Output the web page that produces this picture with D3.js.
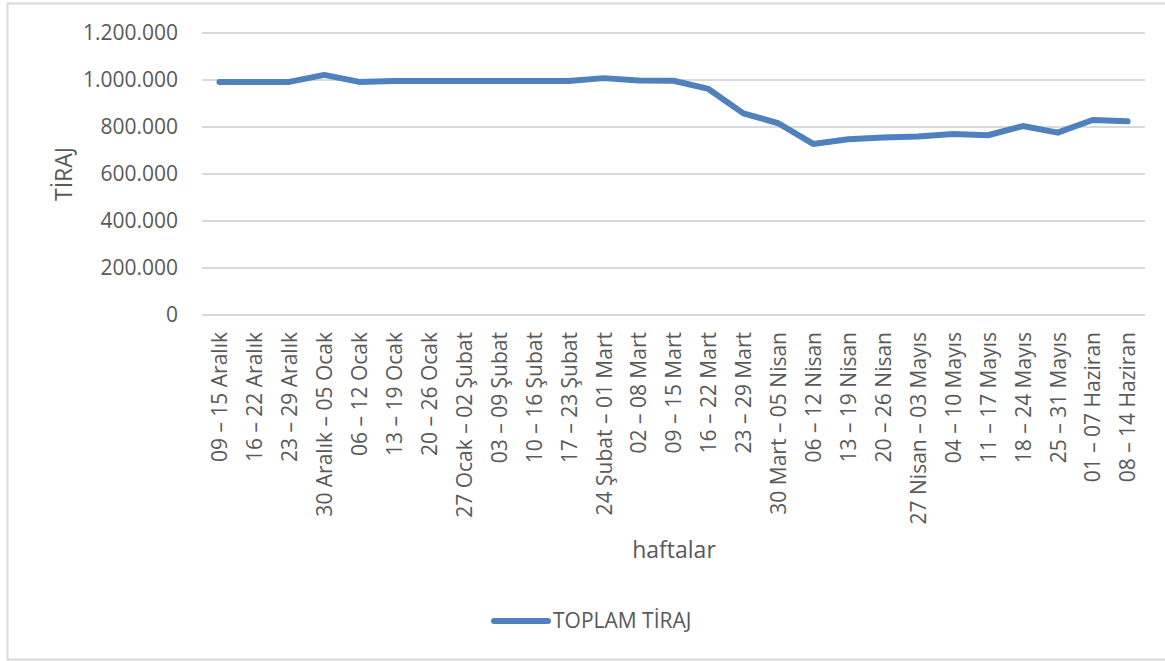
<!DOCTYPE html>
<html>
<head>
<meta charset="utf-8">
<script src="https://cdn.jsdelivr.net/npm/d3@7"></script>
<style>
  body { margin: 0; background: #fff; }
  svg text { font-family: 'Open Sans', sans-serif; fill: #595959; }
</style>
</head>
<body>
<div id="chart"></div>
<script>
const weeks = [
  '09 – 15 Aralık', '16 – 22 Aralık', '23 – 29 Aralık', '30 Aralık – 05 Ocak',
  '06 – 12 Ocak', '13 – 19 Ocak', '20 – 26 Ocak', '27 Ocak – 02 Şubat',
  '03 – 09 Şubat', '10 – 16 Şubat', '17 – 23 Şubat', '24 Şubat – 01 Mart',
  '02 – 08 Mart', '09 – 15 Mart', '16 – 22 Mart', '23 – 29 Mart',
  '30 Mart – 05 Nisan', '06 – 12 Nisan', '13 – 19 Nisan', '20 – 26 Nisan',
  '27 Nisan – 03 Mayıs', '04 – 10 Mayıs', '11 – 17 Mayıs', '18 – 24 Mayıs',
  '25 – 31 Mayıs', '01 – 07 Haziran', '08 – 14 Haziran'
]
const toplamTiraj = [
  992000, 992000, 992000, 1022000, 992000, 996000, 996000, 996000,
  996000, 996000, 996000, 1008000, 998000, 997000, 962000, 858000,
  816000, 728000, 748000, 755000, 760000, 770000, 765000, 804000,
  776000, 830000, 824000
]
const yTicks = [0, 200000, 400000, 600000, 800000, 1000000, 1200000]

const svgWidth = 1165
const svgHeight = 661
const plot = {left: 202, right: 1145, top: 33, bottom: 315}

const svg = d3.select('#chart').append('svg')
  .attr('width', svgWidth)
  .attr('height', svgHeight)

// chart area border
svg.append('path')
  .attr('d', 'M1165,3.5 H7.5 V659.5 H1165')
  .attr('fill', 'none')
  .attr('stroke', '#d9d9d9')
  .attr('stroke-width', 2)

const x = d3.scalePoint()
  .domain(weeks)
  .range([plot.left, plot.right])
  .padding(0.5)
const y = d3.scaleLinear()
  .domain([0, 1200000])
  .range([plot.bottom, plot.top])

const fmt = d3.formatLocale({decimal: ',', thousands: '.', grouping: [3], currency: ['', '']}).format(',d')

// gridlines
svg.append('g')
  .selectAll('line')
  .data(yTicks)
  .enter().append('line')
  .attr('x1', plot.left)
  .attr('x2', plot.right)
  .attr('y1', d => y(d))
  .attr('y2', d => y(d))
  .attr('stroke', '#d9d9d9')
  .attr('stroke-width', 2)

const yAxis = d3.axisLeft(y)
  .tickValues(yTicks)
  .tickFormat(fmt)
  .tickSize(0)
  .tickPadding(24)

svg.append('g')
  .attr('transform', 'translate(' + plot.left + ',0)')
  .call(yAxis)
  .call(g => g.select('.domain').remove())
  .selectAll('text')
  .attr('font-size', 21)
  .attr('font-family', 'Open Sans, sans-serif')
  .attr('fill', '#595959')

const xAxis = d3.axisBottom(x)
  .tickSize(0)
  .tickPadding(0)

svg.append('g')
  .attr('transform', 'translate(0,' + plot.bottom + ')')
  .call(xAxis)
  .call(g => g.select('.domain').remove())
  .selectAll('text')
  .attr('font-size', 21)
  .attr('font-family', 'Open Sans, sans-serif')
  .attr('fill', '#595959')
  .attr('text-anchor', 'end')
  .attr('transform', 'rotate(-90)')
  .attr('x', -17)
  .attr('y', 0)
  .attr('dy', '0.35em')

const line = d3.line()
  .x((d, i) => x(weeks[i]))
  .y(d => y(d))

svg.append('path')
  .datum(toplamTiraj)
  .attr('fill', 'none')
  .attr('stroke', '#4f81bd')
  .attr('stroke-width', 6)
  .attr('stroke-linejoin', 'round')
  .attr('stroke-linecap', 'round')
  .attr('d', line)

// axis titles
svg.append('text')
  .attr('transform', 'translate(72,' + ((plot.top + plot.bottom) / 2) + ') rotate(-90)')
  .attr('text-anchor', 'middle')
  .attr('font-size', 23)
  .text('TİRAJ')

svg.append('text')
  .attr('x', 674)
  .attr('y', 558)
  .attr('text-anchor', 'middle')
  .attr('font-size', 23)
  .text('haftalar')

// legend
const legend = svg.append('g')
  .attr('transform', 'translate(494,621)')
legend.append('line')
  .attr('x1', 0)
  .attr('x2', 54)
  .attr('stroke', '#4f81bd')
  .attr('stroke-width', 6)
  .attr('stroke-linecap', 'round')
legend.append('text')
  .attr('x', 59)
  .attr('dy', '0.35em')
  .attr('font-size', 21)
  .text('TOPLAM TİRAJ')
</script>
</body>
</html>
